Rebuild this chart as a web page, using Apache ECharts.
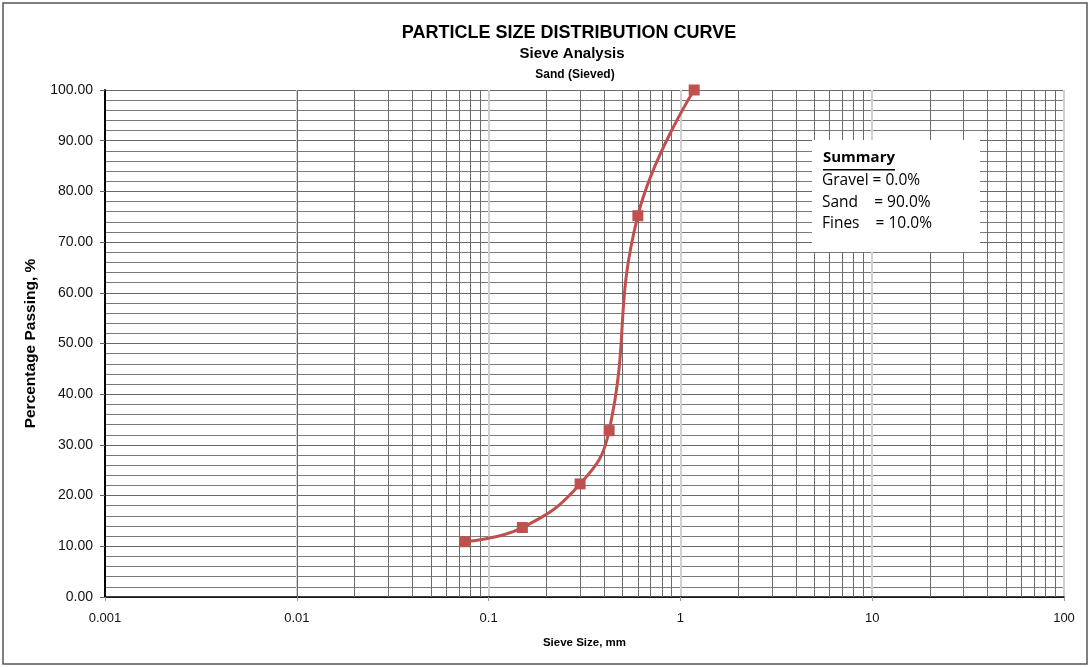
<!DOCTYPE html>
<html>
<head>
<meta charset="utf-8">
<script src="https://cdn.jsdelivr.net/npm/echarts@6/dist/echarts.min.js"></script>
<style>
  html, body { margin: 0; padding: 0; background: #fff; }
  #chart { width: 1090px; height: 667px; }
</style>
</head>
<body>
<div id="chart"></div>
<script>
// sieve data
const sieveSize = [0.075, 0.15, 0.3, 0.425, 0.6, 1.18]
const percentPassing = [10.9, 13.7, 22.3, 32.8, 75.2, 100.0]

// gridline values of the semi-log paper
const xDecades = [0.001, 0.01, 0.1, 1, 10, 100]
const xMultiples = [2, 3, 4, 5, 6, 7, 8, 9]

const summaryLines = ['Gravel = 0.0%', 'Sand    = 90.0%', 'Fines    = 10.0%']

const minorX = []
for (const d of xDecades.slice(0, -1)) {
  for (const m of xMultiples) minorX.push(+(d * m).toPrecision(3))
}

const chart = echarts.init(document.getElementById('chart'))

const option = {
  animation: false,
  textStyle: { fontFamily: 'Liberation Sans, Arial, sans-serif' },
  title: [
    { text: 'PARTICLE SIZE DISTRIBUTION CURVE', left: 564, top: 19, textAlign: 'center',
      textStyle: { fontSize: 18, fontWeight: 'bold', color: '#000' } },
    { text: 'Sieve Analysis', left: 567, top: 41, textAlign: 'center',
      textStyle: { fontSize: 15, fontWeight: 'bold', color: '#000' } },
    { text: 'Sand (Sieved)', left: 570, top: 64, textAlign: 'center',
      textStyle: { fontSize: 12, fontWeight: 'bold', color: '#000' } },
  ],
  grid: { left: 105, right: 26, top: 90, bottom: 70 },
  xAxis: {
    type: 'log',
    logBase: 10,
    min: 0.001,
    max: 100,
    name: 'Sieve Size, mm',
    nameLocation: 'middle',
    nameGap: 40,
    nameTextStyle: { fontSize: 11.5, fontWeight: 'bold', color: '#000' },
    axisLine: { onZero: false, lineStyle: { color: '#000', width: 1.5 } },
    axisTick: { show: true, length: 4, lineStyle: { color: '#999' } },
    axisLabel: {
      fontSize: 13, color: '#111', margin: 15,
      formatter: v => String(parseFloat(Number(v).toPrecision(6))),
    },
    splitLine: { show: true, lineStyle: { color: '#d0d0d0', width: 2 } },
  },
  yAxis: {
    type: 'value',
    min: 0,
    max: 100,
    interval: 10,
    name: 'Percentage Passing, %',
    nameLocation: 'middle',
    nameGap: 66,
    nameTextStyle: { fontSize: 15.5, fontWeight: 'bold', color: '#000' },
    axisLine: { show: true, lineStyle: { color: '#000', width: 2 } },
    axisTick: { show: true, length: 5, lineStyle: { color: '#666' } },
    axisLabel: { fontSize: 14, color: '#111', margin: 12, formatter: v => v.toFixed(2) },
    splitLine: { show: true, lineStyle: { color: '#6a6a6a', width: 1 } },
    minorTick: { show: false, splitNumber: 5 },
    minorSplitLine: { show: true, lineStyle: { color: '#7a7a7a', width: 1 } },
  },
  series: [
    {
      // vertical minor lines of the log grid
      type: 'line',
      data: [],
      silent: true,
      markLine: {
        silent: true,
        symbol: 'none',
        label: { show: false },
        animation: false,
        lineStyle: { color: '#6a6a6a', width: 1, type: 'solid' },
        data: minorX.map(v => ({ xAxis: v })),
      },
    },
    {
      name: 'Passing',
      type: 'line',
      data: sieveSize.map((s, i) => [s, percentPassing[i]]),
      smooth: 0.45,
      symbol: 'rect',
      symbolSize: 11,
      lineStyle: { color: '#c0504d', width: 3 },
      itemStyle: { color: '#c0504d' },
      z: 10,
    },
  ],
  graphic: [
    { type: 'rect', shape: { x: 3, y: 3, width: 1084, height: 661 },
      style: { fill: 'none', stroke: '#555', lineWidth: 1.5 }, z: 100 },
    { type: 'rect', shape: { x: 812, y: 140, width: 168, height: 112 },
      style: { fill: '#fff', stroke: 'none' }, z: 100 },
    { type: 'text', left: 823, top: 150, z: 101,
      style: { text: 'Summary', font: 'bold 15px "Open Sans", sans-serif', fill: '#000' } },
    { type: 'rect', shape: { x: 823, y: 169, width: 72, height: 1.5 },
      style: { fill: '#000' }, z: 101 },
    ...summaryLines.map((t, i) => ({
      type: 'text', left: 822, top: 173 + i * 21.5, z: 101,
      style: { text: t, font: '15.5px "Open Sans", sans-serif', fill: '#000' },
    })),
  ],
}

chart.setOption(option)
</script>
</body>
</html>
